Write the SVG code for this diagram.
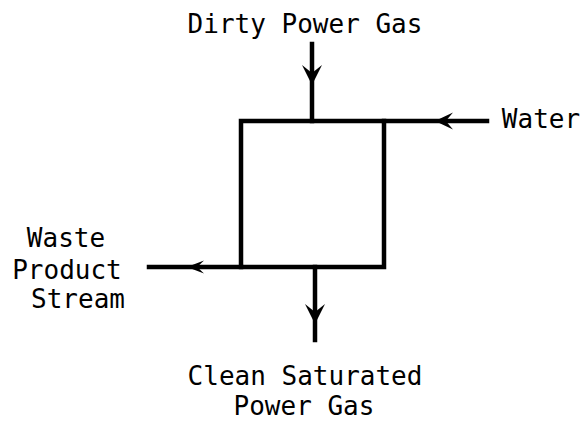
<svg xmlns="http://www.w3.org/2000/svg" width="585" height="425" viewBox="0 0 585 425">
<style>
.ln{stroke:#000;stroke-width:4.5;fill:none;stroke-linecap:square}
.lbl{font-family:"DejaVu Sans Mono","Liberation Mono",monospace;font-size:26px;fill:#000;text-anchor:middle}
</style>
<defs>
<path id="ah" d="M0,0 L-20,-10 L-12,0 L-20,10 Z" fill="#000"/>
</defs>
<rect width="585" height="425" fill="#fff"/>
<g id="scrubber">
<rect class="ln" x="241" y="121" width="143" height="146"/>
</g>
<g id="connectors">
<line class="ln" x1="312" y1="44" x2="312" y2="121"/>
<use href="#ah" transform="translate(312,85) rotate(90)"/>
<line class="ln" x1="384" y1="121" x2="487" y2="121"/>
<use href="#ah" transform="translate(435,121) rotate(180) scale(0.9,0.85)"/>
<line class="ln" x1="149" y1="267" x2="241" y2="267"/>
<use href="#ah" transform="translate(187,267) rotate(180) scale(0.85,0.65)"/>
<line class="ln" x1="315" y1="267" x2="315" y2="340"/>
<use href="#ah" transform="translate(315,324) rotate(90)"/>
</g>
<g id="dirty-gas"><text class="lbl" x="305" y="33">Dirty Power Gas</text></g>
<g id="water"><text class="lbl" x="541" y="128">Water</text></g>
<g id="waste">
<text class="lbl" x="66" y="247">Waste</text>
<text class="lbl" x="67" y="279">Product</text>
<text class="lbl" x="78" y="308">Stream</text>
</g>
<g id="clean-gas">
<text class="lbl" x="305" y="385">Clean Saturated</text>
<text class="lbl" x="304" y="415">Power Gas</text>
</g>
</svg>
